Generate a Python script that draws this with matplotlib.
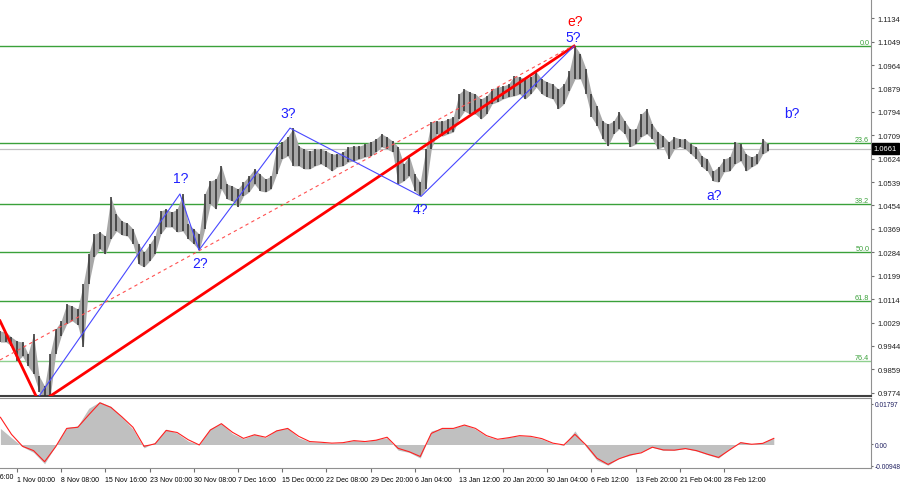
import numpy as np
import matplotlib
matplotlib.use("Agg")
import matplotlib.pyplot as plt
import matplotlib.transforms as mtransforms

plt.rcParams['font.family'] = ['Liberation Sans', 'DejaVu Sans']

# ---------------- data ----------------
# price range per sample (one sample = 4 H4 bars), sample k sits at bar 4k-12 (bar 0 = 1 Nov 00:00)
highs = [0.9998, 0.9994, 0.9976, 0.9962, 0.9958, 0.9915, 0.9987, 0.9835, 0.9798, 0.9915,
         1.0005, 1.0035, 1.0096, 1.0089, 1.0078, 1.0169, 1.0278, 1.0350, 1.0358, 1.0343,
         1.0485, 1.0423, 1.0398, 1.0390, 1.0369, 1.0314, 1.0285, 1.0314, 1.0343, 1.0434,
         1.0441, 1.0430, 1.0441, 1.0496, 1.0387, 1.0369, 1.0350, 1.0496, 1.0543, 1.0550,
         1.0598, 1.0532, 1.0525, 1.0514, 1.0539, 1.0561, 1.0587, 1.0568, 1.0550, 1.0561,
         1.0667, 1.0685, 1.0703, 1.0735, 1.0670, 1.0659, 1.0652, 1.0659, 1.0659, 1.0652,
         1.0641, 1.0641, 1.0648, 1.0667, 1.0670, 1.0670, 1.0677, 1.0685, 1.0696, 1.0714,
         1.0703, 1.0688, 1.0667, 1.0605, 1.0634, 1.0568, 1.0539, 1.0659, 1.0757, 1.0761,
         1.0761, 1.0768, 1.0776, 1.0859, 1.0877, 1.0866, 1.0859, 1.0841, 1.0852, 1.0877,
         1.0884, 1.0888, 1.0895, 1.0924, 1.0921, 1.0913, 1.0921, 1.0939, 1.0913, 1.0903,
         1.0895, 1.0877, 1.0895, 1.0942, 1.1033, 1.1004, 1.0950, 1.0859, 1.0815, 1.0761,
         1.0750, 1.0761, 1.0794, 1.0761, 1.0732, 1.0732, 1.0786, 1.0805, 1.0750, 1.0721,
         1.0706, 1.0685, 1.0703, 1.0696, 1.0696, 1.0677, 1.0667, 1.0634, 1.0623, 1.0579,
         1.0594, 1.0623, 1.0630, 1.0685, 1.0677, 1.0641, 1.0630, 1.0641, 1.0696, 1.0677]
lows = [0.9958, 0.9958, 0.9944, 0.9889, 0.9907, 0.9871, 0.9842, 0.9777, 0.9751, 0.9758,
        0.9915, 0.9980, 1.0024, 1.0035, 1.0020, 0.9940, 1.0169, 1.0267, 1.0296, 1.0278,
        1.0332, 1.0361, 1.0347, 1.0343, 1.0314, 1.0241, 1.0231, 1.0252, 1.0278, 1.0350,
        1.0376, 1.0376, 1.0358, 1.0361, 1.0332, 1.0314, 1.0292, 1.0369, 1.0459, 1.0441,
        1.0514, 1.0478, 1.0470, 1.0449, 1.0489, 1.0503, 1.0532, 1.0507, 1.0503, 1.0514,
        1.0568, 1.0623, 1.0634, 1.0598, 1.0598, 1.0587, 1.0587, 1.0598, 1.0605, 1.0594,
        1.0579, 1.0594, 1.0598, 1.0612, 1.0616, 1.0623, 1.0630, 1.0634, 1.0648, 1.0667,
        1.0659, 1.0648, 1.0532, 1.0543, 1.0561, 1.0507, 1.0489, 1.0514, 1.0659, 1.0714,
        1.0706, 1.0714, 1.0721, 1.0768, 1.0797, 1.0786, 1.0786, 1.0768, 1.0786, 1.0823,
        1.0830, 1.0841, 1.0848, 1.0852, 1.0859, 1.0841, 1.0859, 1.0884, 1.0859, 1.0848,
        1.0841, 1.0805, 1.0823, 1.0870, 1.0913, 1.0913, 1.0859, 1.0776, 1.0743, 1.0696,
        1.0670, 1.0714, 1.0732, 1.0714, 1.0667, 1.0677, 1.0703, 1.0714, 1.0696, 1.0659,
        1.0667, 1.0623, 1.0659, 1.0667, 1.0659, 1.0641, 1.0623, 1.0594, 1.0579, 1.0543,
        1.0539, 1.0576, 1.0579, 1.0605, 1.0616, 1.0579, 1.0594, 1.0605, 1.0641, 1.0652]

# oscillator (one value every 8 bars, starting at bar -12)
osc_hist = [0.0071, 0.0030, -0.0010, -0.0035, -0.0085, -0.0005, 0.0075, 0.0082, 0.0160, 0.0189,
            0.0168, 0.0120, 0.0068, -0.0015, 0.0010, 0.0068, 0.0050, 0.0015, 0.0000, 0.0070,
            0.0093, 0.0048, 0.0025, 0.0045, 0.0030, 0.0065, 0.0072, 0.0030, 0.0012, 0.0010,
            0.0005, 0.0008, 0.0018, 0.0012, 0.0022, 0.0030, -0.0025, -0.0035, -0.0060, 0.0060,
            0.0072, 0.0072, 0.0088, 0.0068, 0.0036, 0.0022, 0.0032, 0.0039, 0.0035, 0.0024,
            0.0004, -0.0003, 0.0060, -0.0010, -0.0070, -0.0092, -0.0060, -0.0048, -0.0032, -0.0012,
            -0.0026, -0.0025, -0.0018, -0.0029, -0.0045, -0.0060, -0.0020, 0.0012, 0.0002, 0.0008,
            0.0030]
osc_signal = [0.0120, 0.0045, -0.0008, -0.0027, -0.0076, -0.0010, 0.0071, 0.0076, 0.0131, 0.0184,
              0.0164, 0.0122, 0.0076, -0.0008, 0.0003, 0.0062, 0.0053, 0.0021, -0.0002, 0.0064,
              0.0092, 0.0054, 0.0027, 0.0043, 0.0032, 0.0060, 0.0071, 0.0036, 0.0013, 0.0010,
              0.0006, 0.0008, 0.0017, 0.0013, 0.0019, 0.0032, -0.0017, -0.0032, -0.0053, 0.0049,
              0.0071, 0.0071, 0.0086, 0.0071, 0.0039, 0.0023, 0.0030, 0.0039, 0.0036, 0.0026,
              0.0006, -0.0002, 0.0045, -0.0002, -0.0061, -0.0088, -0.0063, -0.0046, -0.0037, -0.0012,
              -0.0024, -0.0025, -0.0018, -0.0027, -0.0043, -0.0057, -0.0024, 0.0008, 0.0001, 0.0005,
              0.0027]

date_labels = ["24 Oct 16:00", "1 Nov 00:00", "8 Nov 08:00", "15 Nov 16:00", "23 Nov 00:00",
               "30 Nov 08:00", "7 Dec 16:00", "15 Dec 00:00", "22 Dec 08:00", "29 Dec 20:00",
               "6 Jan 04:00", "13 Jan 12:00", "20 Jan 20:00", "30 Jan 04:00", "6 Feb 12:00",
               "13 Feb 20:00", "21 Feb 04:00", "28 Feb 12:00"]
date_bars = [-32, 0, 32, 64, 96, 128, 160, 192, 224, 256, 288, 320, 352, 384, 416, 448, 480, 512]

price_ticks = [1.1134, 1.1049, 1.0964, 1.0879, 1.0794, 1.0709, 1.0624, 1.0539, 1.0454,
               1.0369, 1.0284, 1.0199, 1.0114, 1.0029, 0.9944, 0.9859, 0.9774]
fib_names = ["0.0", "23.6", "38.2", "50.0", "61.8", "76.4"]
fib_prices = [1.1033, 1.0680, 1.0461, 1.02845, 1.0108, 0.9889]
last_price = 1.0661

wave_bars = [12, 118, 131.8, 197.7, 292.6, 403.4]
wave_prices = [0.9733, 1.0496, 1.0292, 1.0735, 1.0487, 1.1033]
red_up_bars = [-20, 403.4]
red_up_prices = [0.9614, 1.1033]
red_down_bars = [-12.3, 20]
red_down_prices = [1.0035, 0.9697]
dash_bars = [-12.3, 400]
dash_prices = [0.9893, 1.1027]

labels_txt = ["e?", "5?", "3?", "1?", "2?", "4?", "a?", "b?"]
labels_bar = [404, 403, 196.3, 118.8, 132.5, 291.8, 504.7, 561.2]
labels_price = [1.1124, 1.1066, 1.0790, 1.0554, 1.0245, 1.0441, 1.0492, 1.0790]
labels_col = ["#ff0000"] + ["#2020ff"] * 7

# ---------------- figure ----------------
W, H = 900, 485
fig = plt.figure(figsize=(9, 4.85), dpi=100)
right = 871 / W
ax = fig.add_axes([0, 1 - 397 / H, right, 397 / H])
ax2 = fig.add_axes([0, 1 - 469 / H, right, 70 / H])

xmin, xmax = -12.3, 618.4
ax.set_xlim(xmin, xmax)
ax.set_ylim(0.97621, 1.1204)
ax2.set_xlim(xmin, xmax)
ax2.set_ylim(-0.01038, 0.02053)

green = "#3aa13a"
for n, p in zip(fib_names, fib_prices):
    c = "#8fd08f" if n == "76.4" else green
    ax.axhline(p, color=c, lw=1.0, zorder=1)
    ax.text(0.998, p, n, transform=mtransforms.blended_transform_factory(ax.transAxes, ax.transData),
            ha="right", va="bottom", color=green, fontsize=5.2)
ax.axhline(last_price, color="#c0c0c0", lw=0.9, zorder=1)

xb = np.arange(len(highs)) * 4 - 12
ax.fill_between(xb, lows, highs, color="#a8a8a8", lw=0, zorder=2)
ax.vlines(xb, lows, highs, color="#2e2e2e", lw=1.1, zorder=3)

ax.plot(red_up_bars, red_up_prices, color="#ff0000", lw=2.0, zorder=4)
ax.plot(red_down_bars, red_down_prices, color="#ff0000", lw=2.0, zorder=4)
ax.plot(dash_bars, dash_prices, color="#ff5050", lw=0.8, ls=(0, (3, 3)), zorder=4)
ax.plot(wave_bars, wave_prices, color="#4848ff", lw=0.8, zorder=5)

for t, b, p, c in zip(labels_txt, labels_bar, labels_price, labels_col):
    ax.text(b, p, t, color=c, fontsize=10, ha="center", va="center", zorder=6)

ax.yaxis.tick_right()
ax.set_yticks(price_ticks)
ax.set_yticklabels([f"{v:.4f}" for v in price_ticks])
ax.tick_params(axis="y", labelsize=5.5, length=2, color="#707070", pad=3, labelcolor="#202020")
ax.set_xticks([])
for s in ["left", "top"]:
    ax.spines[s].set_visible(False)
ax.spines["right"].set_color("#909090")
ax.spines["bottom"].set_color("#404040")
ax.spines["bottom"].set_linewidth(1.5)

ax.text(1.003, last_price, f"{last_price:.4f}",
        transform=mtransforms.blended_transform_factory(ax.transAxes, ax.transData),
        ha="left", va="center", color="white", fontsize=5.5, zorder=10, clip_on=False,
        bbox=dict(boxstyle="square,pad=0.25", fc="black", ec="black"))

# oscillator
xo = np.arange(len(osc_hist)) * 8 - 12
ax2.fill_between(xo, 0, osc_hist, color="#c0c0c0", lw=0)
ax2.plot(xo, osc_signal, color="#ff2020", lw=0.8)
ax2.yaxis.tick_right()
ax2.set_yticks([0.01797, 0.0, -0.00948])
ax2.set_yticklabels(["0.01797", "0.00", "-0.00948"])
ax2.tick_params(axis="y", labelsize=4.8, length=1.5, color="#707070", pad=1, labelcolor="#202060")
for lab in ax2.get_yticklabels():
    lab.set_fontstretch('condensed')
ax2.set_xticks(date_bars[1:])
ax2.set_xticklabels(date_labels[1:], ha="left")
ax2.tick_params(axis="x", labelsize=5.0, length=3, color="#707070", pad=3)
for lab in ax2.get_xticklabels():
    lab.set_fontstretch('condensed')
ax2.spines["left"].set_visible(False)
for s in ["right", "top", "bottom"]:
    ax2.spines[s].set_color("#909090")
ax2.text(date_bars[0], -0.0141, date_labels[0], fontsize=5.0, ha="left", va="center",
         clip_on=False)

fig.savefig("out.png", dpi=100)
